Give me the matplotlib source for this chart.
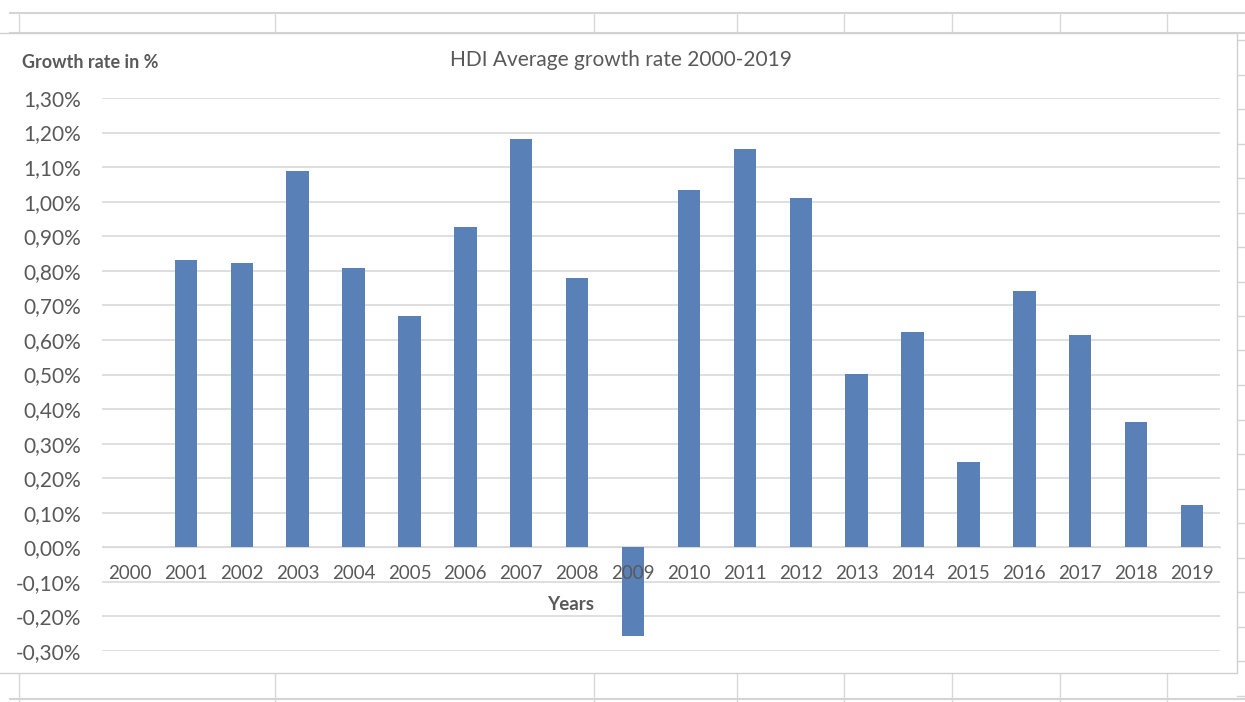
import matplotlib.pyplot as plt
from matplotlib.lines import Line2D
from matplotlib.patches import Rectangle
from matplotlib.ticker import FuncFormatter, MultipleLocator

# Data (growth rate in %)
years = ['2000', '2001', '2002', '2003', '2004', '2005', '2006', '2007', '2008', '2009',
         '2010', '2011', '2012', '2013', '2014', '2015', '2016', '2017', '2018', '2019']
growth = [0.0, 0.831, 0.822, 1.089, 0.808, 0.668, 0.928, 1.181, 0.780, -0.256,
          1.034, 1.151, 1.012, 0.501, 0.624, 0.248, 0.741, 0.613, 0.364, 0.122]

# spreadsheet cell borders visible around the chart object
sheet_cols = [19, 275, 594, 737, 844, 952, 1060, 1167]

W, H = 1245, 702
plt.rcParams['font.family'] = ['Lato', 'DejaVu Sans']
text_grey = '#595959'
grid_grey = '#d9d9d9'


def fx(x):
    return x / W


def fy(y):
    return 1 - y / H


fig = plt.figure(figsize=(W / 100, H / 100), dpi=100)

# Background sheet grid
for y in [13, 33, 699]:
    fig.add_artist(Line2D([fx(10), 1], [fy(y), fy(y)], color='#d4d4d4', lw=1.5, zorder=0))
for x in sheet_cols:
    fig.add_artist(Line2D([fx(x), fx(x)], [fy(13), fy(33)], color='#d8d8d8', lw=1, zorder=0))
    fig.add_artist(Line2D([fx(x), fx(x)], [fy(673), fy(702)], color='#d8d8d8', lw=1, zorder=0))
y = 40
while y < 700:
    fig.add_artist(Line2D([fx(1237), 1], [fy(y), fy(y)], color='#d4d4d4', lw=1, zorder=0))
    y += 34.5

# Chart object box
fig.add_artist(Rectangle((fx(-2), fy(673)), fx(1239), fy(33) - fy(673),
                         facecolor='white', edgecolor='#d0d0d0', lw=1, zorder=1))

ax = fig.add_axes([fx(102), fy(651), fx(1220) - fx(102), fy(98) - fy(651)])
ax.set_zorder(2)
ax.patch.set_alpha(0)

x = list(range(len(years)))
ax.bar(x, growth, width=0.4, color='#5980b7', linewidth=0, zorder=3)

ax.set_xlim(-0.5, len(years) - 0.5)
ax.set_ylim(-0.30, 1.30)
ax.yaxis.set_major_locator(MultipleLocator(0.10))


def pct_fmt(v, pos):
    v = round(v, 2)
    if v == 0:
        v = 0.0
    return f'{v:.2f}%'.replace('.', ',')


ax.yaxis.set_major_formatter(FuncFormatter(pct_fmt))
ax.grid(axis='y', color=grid_grey, lw=1.2, zorder=0)
ax.set_axisbelow(True)

ax.set_xticks(x)
ax.set_xticklabels(years)
# year labels sit on top of the bars (the 2009 one overlaps its bar)
ax.xaxis.set_zorder(4)
ax.spines['bottom'].set_position(('data', 0))
ax.spines['bottom'].set_color(grid_grey)
for s in ['top', 'right', 'left']:
    ax.spines[s].set_visible(False)

ax.tick_params(axis='y', length=0, pad=15, labelsize=15, labelcolor=text_grey)
ax.tick_params(axis='x', length=0, pad=13, labelsize=13.5, labelcolor=text_grey)

fig.text(fx(621), fy(60), 'HDI Average growth rate 2000-2019', ha='center', va='center',
         fontsize=15, color=text_grey)
fig.text(fx(22), fy(63), 'Growth rate in %', ha='left', va='center',
         fontsize=13, fontweight='bold', color=text_grey)
fig.text(fx(571), fy(604), 'Years', ha='center', va='center',
         fontsize=13.5, fontweight='bold', color=text_grey)

plt.savefig('out.png', dpi=100)
